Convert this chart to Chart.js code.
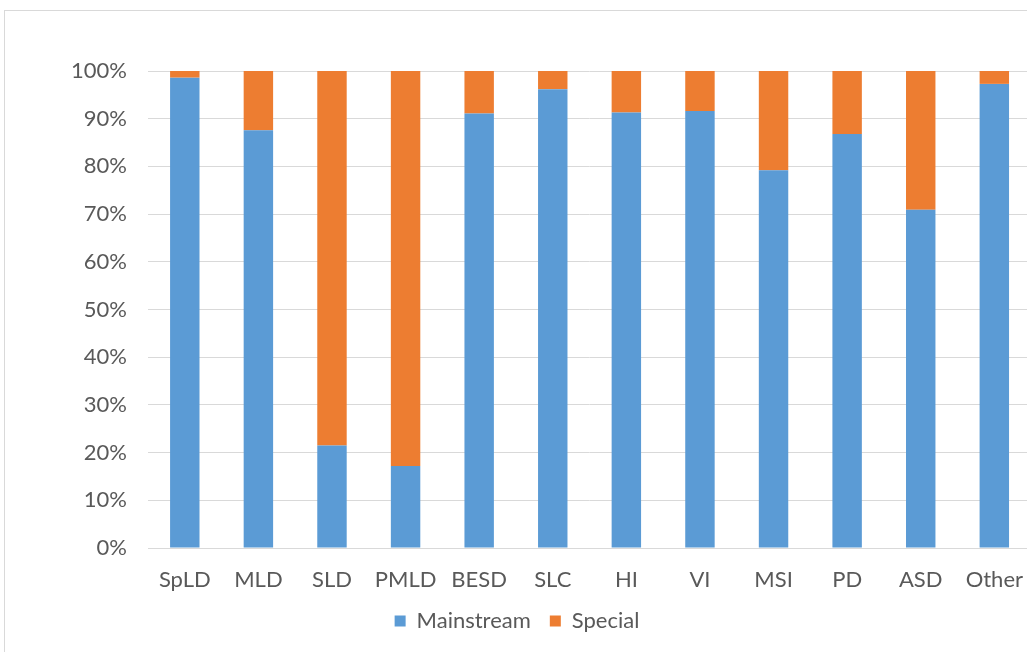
<!DOCTYPE html>
<html><head><meta charset="utf-8">
<script src="https://cdn.jsdelivr.net/npm/chart.js@4.4.1/dist/chart.umd.min.js"></script>
<style>
html,body{margin:0;padding:0;background:#fff;overflow:hidden;width:1027px;height:652px;}
#frame{position:absolute;left:4px;top:10px;width:1100px;height:700px;border:1px solid #d9d9d9;box-sizing:border-box;}
#c{position:absolute;left:0;top:0;}
</style></head>
<body>
<div id="frame"></div>
<canvas id="c" width="1034" height="652"></canvas>
<script>
const categories = ["SpLD","MLD","SLD","PMLD","BESD","SLC","HI","VI","MSI","PD","ASD","Other"];
const mainstream = [98.6, 87.6, 21.5, 17.2, 91.1, 96.2, 91.3, 91.6, 79.2, 86.8, 70.9, 97.3];
const special = mainstream.map(v => +(100 - v).toFixed(1));
const yTicks = [0,10,20,30,40,50,60,70,80,90,100];

const font = {family: "Lato, 'Open Sans', sans-serif", size: 22};
new Chart(document.getElementById('c'), {
  type: 'bar',
  data: {
    labels: categories,
    datasets: [
      {label: 'Mainstream', data: mainstream, backgroundColor: '#5B9BD5', barPercentage: 0.4, categoryPercentage: 1},
      {label: 'Special', data: special, backgroundColor: '#ED7D31', barPercentage: 0.4, categoryPercentage: 1}
    ]
  },
  options: {
    responsive: false,
    animation: false,
    layout: {padding: {top: 71, left: 0, right: 0, bottom: 10}},
    plugins: {
      legend: {position: 'bottom', labels: {boxWidth: 11, boxHeight: 11, color: '#595959', font: font, padding: 19}},
      tooltip: {enabled: false}
    },
    scales: {
      x: {stacked: true, grid: {display: false}, border: {color: '#d9d9d9'},
          afterFit: s => { s.height = 43; },
          ticks: {color: '#595959', font: font, padding: 11, maxRotation: 0}},
      y: {stacked: true, min: 0, max: 100, afterBuildTicks: s => { s.ticks = yTicks.map(v => ({value: v})); },
          afterFit: s => { s.width = 148; },
          grid: {color: '#d9d9d9', drawTicks: false}, border: {display: false},
          ticks: {color: '#595959', font: font, padding: 21, callback: v => v + '%'}}
    }
  }
});
</script>
</body></html>
